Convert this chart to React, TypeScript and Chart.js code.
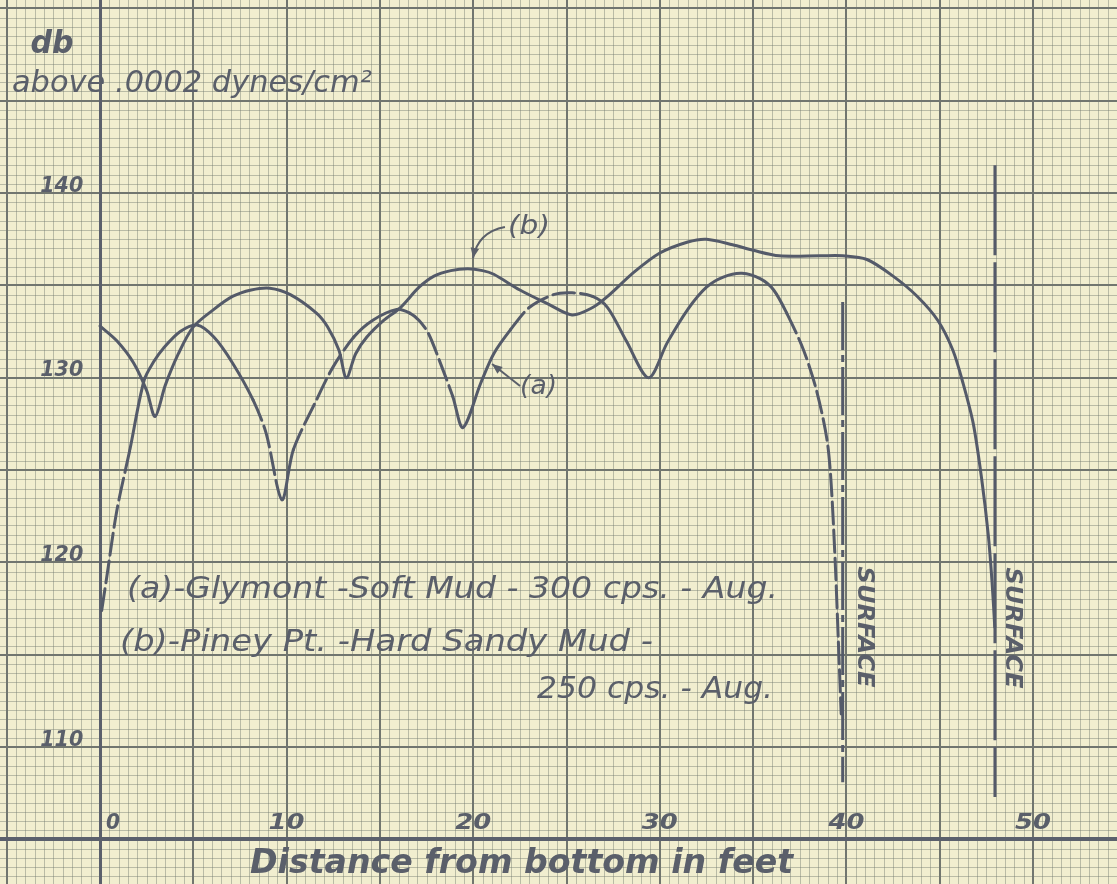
import React, { useEffect, useRef } from "react";
import { Chart, registerables } from "chart.js";

Chart.register(...registerables);

// ---- data ----
// Curve (a): Glymont - Soft Mud - 300 cps - Aug.
const distanceA = [0.09, 0.36, 0.9, 1.6, 2.36, 2.9, 3.4, 4.3, 5.2, 6.1, 7.1, 8.2, 8.9, 9.75, 10.36, 11.6, 12.5, 13.6, 14.6, 15.9, 16.6, 17.1, 17.6, 18.2, 18.9, 19.45, 20.4, 21.1, 22.0, 23.0, 24.3, 25.3, 26.4, 27.2, 28.2, 29.4, 30.4, 31.5, 32.5, 33.4, 34.4, 35.4, 36.1, 36.8, 37.7, 38.4, 38.95, 39.17, 39.4, 39.58, 39.72];
const levelA = [117.4, 119.2, 122.8, 126.1, 129.85, 130.9, 131.6, 132.5, 132.85, 132.2, 130.8, 128.8, 127.0, 123.4, 126.1, 128.8, 130.6, 132.2, 133.1, 133.7, 133.5, 133.1, 132.4, 130.9, 129.0, 127.3, 129.7, 131.3, 132.6, 133.8, 134.5, 134.6, 134.4, 133.8, 132.0, 130.0, 131.9, 133.7, 134.9, 135.45, 135.65, 135.35, 134.75, 133.5, 131.5, 129.3, 126.7, 124.45, 120.0, 115.4, 111.8];
// dashed stretches of curve (a), in feet
const dashedStretchesA = [[0, 1.6], [8.2, 9.5], [10.3, 13.6], [16.6, 19.0], [22.0, 26.6], [37.0, 40.0]];

// Curve (b): Piney Pt. - Hard Sandy Mud - 250 cps - Aug.
const distanceB = [0.0, 0.9, 1.8, 2.5, 2.95, 3.5, 4.2, 5.0, 6.1, 7.1, 8.1, 9.1, 10.2, 11.6, 12.2, 12.8, 13.2, 13.7, 14.3, 15.2, 16.1, 17.1, 17.9, 18.8, 19.7, 20.5, 21.1, 22.5, 24.0, 25.3, 26.4, 27.2, 28.6, 30.0, 31.5, 32.5, 33.9, 35.0, 36.4, 38.6, 39.8, 41.1, 42.5, 43.8, 44.9, 45.7, 46.25, 46.8, 47.25, 47.6, 47.8, 47.95];
const levelB = [132.8, 132.0, 130.8, 129.3, 127.9, 129.6, 131.3, 132.75, 133.7, 134.4, 134.75, 134.85, 134.5, 133.5, 132.75, 131.5, 130.0, 131.3, 132.2, 133.1, 133.8, 134.9, 135.5, 135.8, 135.9, 135.8, 135.6, 134.75, 134.0, 133.4, 133.8, 134.4, 135.7, 136.75, 137.35, 137.5, 137.2, 136.9, 136.6, 136.6, 136.6, 136.4, 135.5, 134.4, 133.1, 131.5, 129.7, 127.5, 124.5, 121.5, 119.0, 116.5];

// Surface markers
const surfaceDistanceA = 39.8;
const surfaceSpanA = [134.1, 108.1];
const surfaceDistanceB = 47.96;
const surfaceSpanB = [141.5, 107.3];

// Axis ticks and texts
const xTickValues = [0, 10, 20, 30, 40, 50];
const yTickValues = [110, 120, 130, 140];
const yTitleTop = "db";
const yTitleBottom = "above .0002 dynes/cm\u00B2";
const xTitle = "Distance from bottom in feet";
const legendLines = ["(a)-Glymont -Soft Mud - 300 cps. - Aug.", "(b)-Piney Pt. -Hard Sandy Mud -", "250 cps. - Aug."];
const surfaceText = "SURFACE";

// ---- visual constants ----
const X_MIN = -5.36;
const X_MAX = 54.5;
const Y_MIN = 102.59;
const Y_MAX = 150.45;
const PAPER = "#f1eecf";
const MINOR = "rgba(118,124,112,0.45)";
const MAJOR = "#71766f";
const AXIS = "#5b606c";
const INK = "#545a69";
const TEXT = "#5a5f6a";
const FONT = '"DejaVu Sans", "Liberation Sans", sans-serif';

function drawFitted(ctx: CanvasRenderingContext2D, text: string, x: number, y: number, size: number, width: number, align: CanvasTextAlign, rot = 0, baseline: CanvasTextBaseline = "alphabetic", weight = "normal") {
  ctx.save();
  ctx.font = `italic ${weight} ${size}px ${FONT}`;
  const w = ctx.measureText(text).width;
  ctx.translate(x, y);
  if (rot) ctx.rotate(rot);
  ctx.scale(width / w, 1);
  ctx.textAlign = align;
  ctx.textBaseline = baseline;
  ctx.fillStyle = TEXT;
  ctx.fillText(text, 0, 0);
  ctx.restore();
}

function arrowHead(ctx: CanvasRenderingContext2D, fx: number, fy: number, tx: number, ty: number, size: number) {
  const ang = Math.atan2(ty - fy, tx - fx);
  ctx.beginPath();
  ctx.moveTo(tx, ty);
  ctx.lineTo(tx - size * Math.cos(ang - 0.4), ty - size * Math.sin(ang - 0.4));
  ctx.lineTo(tx - size * Math.cos(ang + 0.4), ty - size * Math.sin(ang + 0.4));
  ctx.closePath();
  ctx.fill();
}

const paperPlugin = {
  id: "paper",
  beforeDraw(chart: any) {
    const { ctx, width, height } = chart;
    ctx.save();
    ctx.fillStyle = PAPER;
    ctx.fillRect(0, 0, width, height);
    ctx.restore();
  },
  beforeDatasetsDraw(chart: any) {
    const { ctx, chartArea: a } = chart;
    const xs = chart.scales.x;
    const ys = chart.scales.y;
    ctx.save();
    const vline = (v: number, color: string, w: number) => {
      const p = Math.round(xs.getPixelForValue(v)) + (w % 2 ? 0.5 : 0);
      ctx.strokeStyle = color;
      ctx.lineWidth = w;
      ctx.beginPath();
      ctx.moveTo(p, a.top);
      ctx.lineTo(p, a.bottom);
      ctx.stroke();
    };
    const hline = (v: number, color: string, w: number) => {
      const p = Math.round(ys.getPixelForValue(v)) + (w % 2 ? 0.5 : 0);
      ctx.strokeStyle = color;
      ctx.lineWidth = w;
      ctx.beginPath();
      ctx.moveTo(a.left, p);
      ctx.lineTo(a.right, p);
      ctx.stroke();
    };
    const x0 = Math.ceil(xs.min * 2), x1 = Math.floor(xs.max * 2);
    const y0 = Math.ceil(ys.min * 2), y1 = Math.floor(ys.max * 2);
    for (let i = x0; i <= x1; i++) if (i % 10 !== 0) vline(i / 2, MINOR, 1);
    for (let i = y0; i <= y1; i++) if (i % 10 !== 0) hline(i / 2, MINOR, 1);
    for (let i = x0; i <= x1; i++) if (i % 10 === 0) vline(i / 2, MAJOR, 2);
    for (let i = y0; i <= y1; i++) if (i % 10 === 0) hline(i / 2, MAJOR, 2);
    vline(0, AXIS, 3);
    hline(105, AXIS, 4);
    ctx.restore();
  },
  afterDatasetsDraw(chart: any) {
    const { ctx } = chart;
    const X = (v: number) => chart.scales.x.getPixelForValue(v);
    const Y = (v: number) => chart.scales.y.getPixelForValue(v);
    // axis titles
    drawFitted(ctx, yTitleTop, X(-2.57), Y(147.58), 32, 43, "center", 0, "alphabetic", "bold");
    drawFitted(ctx, yTitleBottom, X(-4.72), Y(145.47), 30, 360, "left");
    drawFitted(ctx, xTitle, X(8.04), Y(103.18), 33, 543, "left", 0, "alphabetic", "bold");
    // tick labels
    yTickValues.forEach((v) => drawFitted(ctx, String(v), X(-2.05), Y(v + 0.08), 22, 43, "center", 0, "alphabetic", "bold"));
    xTickValues.forEach((v) => drawFitted(ctx, String(v), X(v === 0 ? 0.7 : v), Y(105.55), 22, v === 0 ? 14 : 36, "center", 0, "alphabetic", "bold"));
    // legend text
    drawFitted(ctx, legendLines[0], X(1.45), Y(118.1), 31, 651, "left");
    drawFitted(ctx, legendLines[1], X(1.07), Y(115.2), 31, 533, "left");
    drawFitted(ctx, legendLines[2], X(23.42), Y(112.66), 31, 236, "left");
    // surface labels
    drawFitted(ctx, surfaceText, X(40.94), Y(116.5), 23, 121, "center", Math.PI / 2, "middle", "bold");
    drawFitted(ctx, surfaceText, X(48.87), Y(116.45), 23, 121, "center", Math.PI / 2, "middle", "bold");
    // curve callouts
    drawFitted(ctx, "(b)", X(22.99), Y(138.16), 26, 42, "center", 0, "middle");
    drawFitted(ctx, "(a)", X(23.5), Y(129.47), 26, 37, "center", 0, "middle");
    ctx.save();
    ctx.strokeStyle = TEXT;
    ctx.fillStyle = TEXT;
    ctx.lineWidth = 2;
    ctx.beginPath();
    ctx.moveTo(X(21.7), Y(138.16));
    ctx.quadraticCurveTo(X(20.26), Y(137.89), X(19.99), Y(136.48));
    ctx.stroke();
    arrowHead(ctx, X(20.2), Y(137.6), X(19.99), Y(136.48), 11);
    ctx.beginPath();
    ctx.moveTo(X(22.51), Y(129.55));
    ctx.lineTo(X(21.01), Y(130.74));
    ctx.stroke();
    arrowHead(ctx, X(22.51), Y(129.55), X(21.01), Y(130.74), 11);
    ctx.restore();
  },
};

export default function App() {
  const ref = useRef<HTMLCanvasElement | null>(null);
  useEffect(() => {
    document.body.style.margin = "0";
    const canvas = ref.current;
    if (!canvas) return;
    const pointsA = distanceA.map((x, i) => ({ x, y: levelA[i] }));
    const pointsB = distanceB.map((x, i) => ({ x, y: levelB[i] }));
    const isDashedA = (c: any) => {
      const mid = (c.p0.parsed.x + c.p1.parsed.x) / 2;
      return dashedStretchesA.some(([s, e]) => mid >= s && mid <= e) ? [22, 6] : undefined;
    };
    const chart = new Chart(canvas, {
      type: "line",
      data: {
        datasets: [
          { label: "(a)", data: pointsA, borderColor: INK, borderWidth: 3, pointRadius: 0, tension: 0.3, fill: false, borderCapStyle: "round", borderJoinStyle: "round", segment: { borderDash: isDashedA } } as any,
          { label: "(b)", data: pointsB, borderColor: INK, borderWidth: 3, pointRadius: 0, tension: 0.3, fill: false, borderCapStyle: "round", borderJoinStyle: "round" } as any,
          { label: "surface (a)", data: surfaceSpanA.map((y) => ({ x: surfaceDistanceA, y })), borderColor: INK, borderWidth: 3, pointRadius: 0, tension: 0, borderDash: [48, 5, 7, 5] } as any,
          { label: "surface (b)", data: surfaceSpanB.map((y) => ({ x: surfaceDistanceB, y })), borderColor: INK, borderWidth: 3, pointRadius: 0, tension: 0, borderDash: [90, 7] } as any,
        ],
      },
      options: {
        animation: false,
        responsive: false,
        maintainAspectRatio: false,
        devicePixelRatio: 1,
        events: [],
        layout: { padding: 0 },
        plugins: { legend: { display: false }, tooltip: { enabled: false }, title: { display: false } },
        scales: {
          x: { type: "linear", min: X_MIN, max: X_MAX, display: false },
          y: { type: "linear", min: Y_MIN, max: Y_MAX, display: false },
        },
      },
      plugins: [paperPlugin as any],
    });
    return () => chart.destroy();
  }, []);
  return (
    <div style={{ width: 1117, height: 884 }}>
      <canvas ref={ref} width={1117} height={884} style={{ display: "block" }} />
    </div>
  );
}
